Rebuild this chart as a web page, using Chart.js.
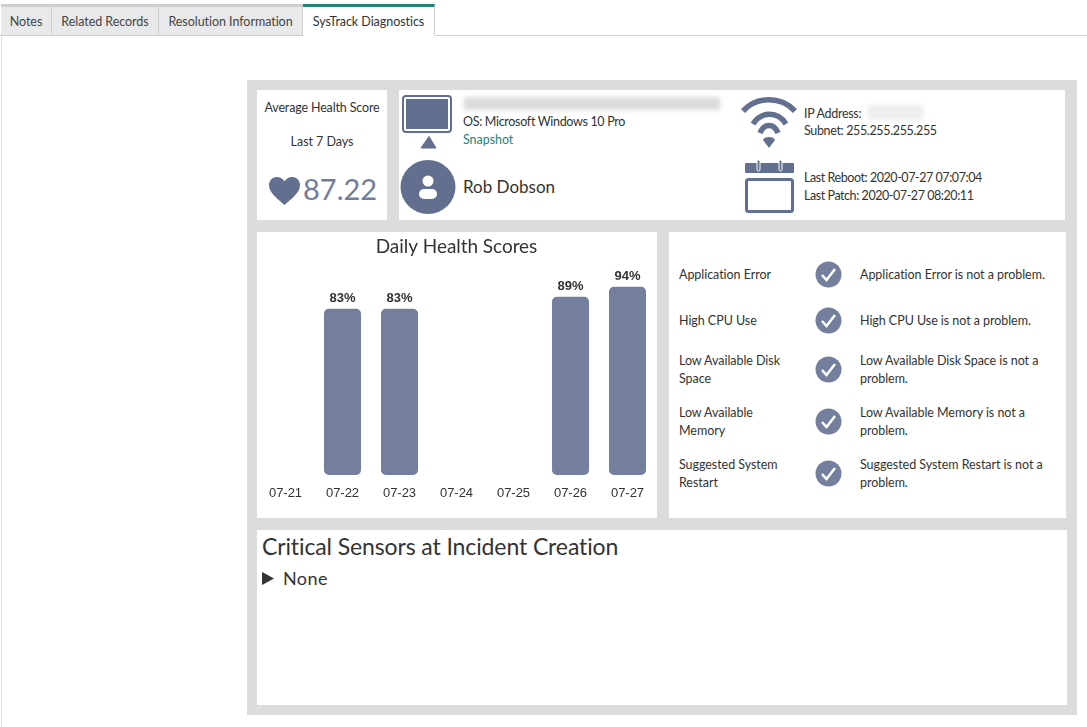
<!DOCTYPE html>
<html>
<head>
<meta charset="utf-8">
<title>SysTrack Diagnostics</title>
<script src="https://cdn.jsdelivr.net/npm/chart.js@4"></script>
<style>
  html, body { margin: 0; padding: 0; background: #fff; }
  body { width: 1087px; height: 727px; position: relative; overflow: hidden; font-family: Lato, sans-serif; font-size: 12.5px; letter-spacing: -0.05px; color: #333; }
  .abs, .tab, .panel, .t { position: absolute; }
  .t { white-space: nowrap; line-height: 18px; }
  .tab { top: 4px; height: 28px; line-height: 30px; text-align: center; background: #e7e9eb; border-top: 3px solid #cfcfcf; border-right: 1px solid #cfcfcf; border-bottom: 1px solid #cfcfcf; color: #444; }
  .tab.active { background: #fff; border-top-color: #1f8476; border-bottom-color: #fff; color: #333; }
  .panel { background: #fff; }
  .blur { position: absolute; filter: blur(2px); }
  svg { position: absolute; overflow: visible; }
</style>
</head>
<body>
<div class="abs" style="left:0;top:35px;width:1087px;height:1px;background:#cfcfcf"></div>
<div class="abs" style="left:1px;top:35px;width:1px;height:692px;background:#dcdcdc"></div>
<div class="tab" style="left:1px;width:50px">Notes</div>
<div class="tab" style="left:52px;width:106px">Related Records</div>
<div class="tab" style="left:159px;width:143px">Resolution Information</div>
<div class="tab active" style="left:303px;width:131px">SysTrack Diagnostics</div>

<div class="abs" style="left:247px;top:80px;width:830px;height:635px;background:#dcdcdc"></div>
<div class="panel" style="left:257px;top:90px;width:130px;height:130px"></div>
<div class="panel" style="left:399px;top:90px;width:666px;height:130px"></div>
<div class="panel" style="left:257px;top:232px;width:400px;height:286px">
  <canvas id="healthChart" width="400" height="286" style="display:block"></canvas>
</div>
<div class="panel" style="left:669px;top:232px;width:397px;height:286px"></div>
<div class="panel" style="left:257px;top:530px;width:810px;height:175px"></div>

<div class="t" style="left:257px;width:130px;text-align:center;top:99px;letter-spacing:-0.15px">Average Health Score</div>
<div class="t" style="left:257px;width:130px;text-align:center;top:133px">Last 7 Days</div>
<svg style="left:269px;top:177px" width="31" height="29" viewBox="0 0 31 29"><path fill="#626f8e" d="M15.5 28C9 22 0 16 0 8.2 0 3.500 3.500 0 8 0c3 0 5.800 1.600 7.500 4.300C17.200 1.600 20 0 23 0c4.500 0 8 3.500 8 8.200C31 16 22 22 15.500 28z"/></svg>
<div class="t" style="left:303px;top:170px;font-size:29px;line-height:38px;letter-spacing:0;color:#717d9b">87.22</div>

<!-- monitor -->
<svg style="left:402px;top:95px" width="50" height="54" viewBox="0 0 50 54">
  <rect x="1" y="1" width="48" height="36" rx="3" fill="#fff" stroke="#626f8e" stroke-width="2"/>
  <rect x="4" y="4" width="42" height="30" fill="#626f8e"/>
  <path d="M27 41.500 L34 53 L19 53 Z" fill="#626f8e" stroke="#626f8e" stroke-linejoin="round"/>
</svg>
<div class="blur" style="left:464px;top:97px;width:256px;height:13px;background:#dcdcdf"></div>
<div class="t" style="left:463px;top:113px;letter-spacing:-0.32px">OS: Microsoft Windows 10 Pro</div>
<div class="t" style="left:463px;top:131px;color:#1f8476">Snapshot</div>

<!-- user -->
<svg style="left:400px;top:160px" width="56" height="54" viewBox="0 0 56 54">
  <ellipse cx="28" cy="27" rx="27.500" ry="27" fill="#626f8e"/>
  <circle cx="28" cy="21" r="5.500" fill="#fff"/>
  <rect x="19" y="29" width="18" height="10" rx="5" fill="#fff"/>
</svg>
<div class="t" style="left:463px;top:176px;font-size:17px;line-height:22px;letter-spacing:0">Rob Dobson</div>

<!-- wifi -->
<svg style="left:740px;top:96px" width="58" height="54" viewBox="0 0 58 54" fill="none" stroke="#626f8e" stroke-width="5.500">
  <path d="M3 15 C17 0 41 0 55 15"/>
  <path d="M13 28 C21 15 38 15 46 28"/>
  <path d="M20 37 C24 27 34 27 38 37"/>
  <path d="M23 44 C24 40 34 40 35 44 L29 52 Z" fill="#626f8e" stroke="none"/>
</svg>
<div class="t" style="left:804px;top:105px;letter-spacing:-0.3px">IP Address:</div>
<div class="blur" style="left:868px;top:105px;width:55px;height:15px;background:#eeeeef"></div>
<div class="t" style="left:804px;top:122px;letter-spacing:-0.35px">Subnet: 255.255.255.255</div>

<!-- calendar -->
<svg style="left:742px;top:158px" width="52" height="56" viewBox="0 0 52 56">
  <rect x="3" y="5" width="49" height="10" rx="1" fill="#626f8e"/>
  <rect x="4.500" y="21.500" width="46" height="32" rx="2" fill="#fff" stroke="#626f8e" stroke-width="3"/>
  <rect x="15" y="2" width="3" height="11" rx="1.500" fill="#626f8e" stroke="#fff"/>
  <rect x="37" y="2" width="3" height="11" rx="1.500" fill="#626f8e" stroke="#fff"/>
</svg>
<div class="t" style="left:804px;top:169px;letter-spacing:-0.44px">Last Reboot: 2020-07-27 07:07:04</div>
<div class="t" style="left:804px;top:187px;letter-spacing:-0.44px">Last Patch: 2020-07-27 08:20:11</div>

<div id="sensorRows"></div>

<div class="t" style="left:262px;top:532px;font-size:23px;line-height:28px;letter-spacing:-0.11px">Critical Sensors at Incident Creation</div>
<svg style="left:262px;top:572px" width="13" height="13" viewBox="0 0 13 13"><path d="M0 0 L12 6.500 L0 13 Z" fill="#333"/></svg>
<div class="t" style="left:283px;top:567px;font-size:18px;line-height:22px;letter-spacing:0.4px">None</div>

<script>
// Daily scores. Days without a score stay null.
const days = ['07-21', '07-22', '07-23', '07-24', '07-25', '07-26', '07-27'];
const scores = [null, 83, 83, null, null, 89, 94];

const sensorNames = [['Application Error'], ['High CPU Use'], ['Low Available Disk', 'Space'], ['Low Available', 'Memory'], ['Suggested System', 'Restart']];
const sensorNotes = [['Application Error is not a problem.'], ['High CPU Use is not a problem.'], ['Low Available Disk Space is not a', 'problem.'], ['Low Available Memory is not a', 'problem.'], ['Suggested System Restart is not a', 'problem.']];
const rowCentres = [274, 320, 369, 421, 473];

// Status rows to the right of the chart
const rows = document.getElementById('sensorRows');
rowCentres.forEach((cy, i) => {
  const top = cy - sensorNames[i].length * 9 + 1;
  rows.insertAdjacentHTML('beforeend',
    `<div class="t" style="left:679px;top:${top}px">${sensorNames[i].join('<br>')}</div>` +
    `<svg style="left:815px;top:${cy - 13}px" width="27" height="27" viewBox="0 0 27 27">` +
    `<circle cx="13.500" cy="13.500" r="13" fill="#737f9c"/>` +
    `<path d="M7 14 L11.500 19 L20 8" fill="none" stroke="#fff" stroke-width="2.500"/></svg>` +
    `<div class="t" style="left:860px;top:${top}px">${sensorNotes[i].join('<br>')}</div>`);
});

// Draws the percent labels above each bar
const barLabels = {
  id: 'barLabels',
  afterDatasetsDraw(chart) {
    const ctx = chart.ctx;
    const meta = chart.getDatasetMeta(0);
    ctx.save();
    ctx.font = 'bold 13px "Liberation Sans", Arial, sans-serif';
    ctx.fillStyle = '#333';
    ctx.textAlign = 'center';
    ctx.textBaseline = 'alphabetic';
    meta.data.forEach((bar, i) => {
      if (scores[i] === null) return;
      ctx.fillText(scores[i] + '%', bar.x, bar.y - 7);
    });
    ctx.restore();
  }
};

new Chart(document.getElementById('healthChart'), {
  type: 'bar',
  data: {
    labels: days,
    datasets: [{
      data: scores,
      backgroundColor: '#737f9c',
      borderRadius: 5,
      borderSkipped: false,
      categoryPercentage: 1,
      barPercentage: 0.65
    }]
  },
  options: {
    responsive: false,
    animation: false,
    layout: { padding: { right: 1 } },
    plugins: {
      legend: { display: false },
      tooltip: { enabled: false },
      title: {
        display: true,
        text: 'Daily Health Scores',
        color: '#333',
        font: { family: 'Lato, sans-serif', size: 19, weight: 'normal' },
        padding: { top: 3, bottom: 17 }
      }
    },
    scales: {
      x: {
        grid: { display: false, drawTicks: false },
        border: { display: false },
        ticks: { color: '#333', font: { family: '"Liberation Sans", Arial, sans-serif', size: 13 }, padding: 11, maxRotation: 0 },
        afterFit(scale) { scale.height = 43; }
      },
      y: {
        display: false,
        min: 0,
        max: 100
      }
    }
  },
  plugins: [barLabels]
});
</script>
</body>
</html>
